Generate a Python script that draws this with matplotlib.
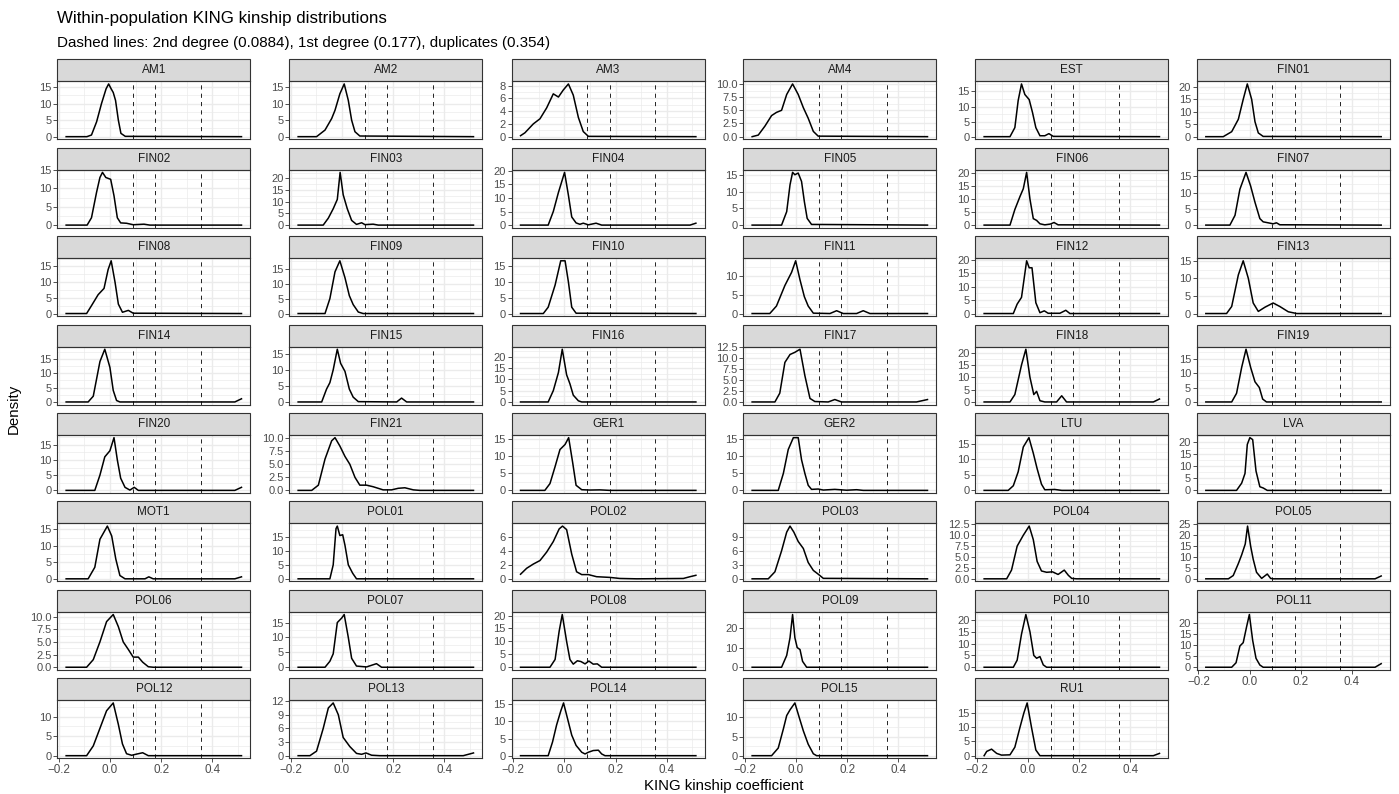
import numpy as np
import matplotlib
matplotlib.use("Agg")
import matplotlib.pyplot as plt
from matplotlib.patches import Rectangle

plt.rcParams['font.family'] = ['Liberation Sans', 'DejaVu Sans']

# density curves (x = KING kinship, y = density)
am1_x = [-0.171, -0.09, -0.072, -0.052, -0.033, -0.015, -0.005, 0.005, 0.013, 0.022, 0.033, 0.043, 0.06, 0.514]
am1_y = [0, 0, 0.5, 4.5, 10, 14.5, 16, 14.5, 13.4, 11, 5, 1, 0.1, 0]
am2_x = [-0.171, -0.099, -0.066, -0.04, -0.027, -0.008, 0.009, 0.025, 0.038, 0.051, 0.07, 0.514]
am2_y = [0, 0, 2, 5.5, 8, 13, 16, 11, 5, 1.5, 0.2, 0]
am3_x = [-0.171, -0.154, -0.121, -0.095, -0.069, -0.043, -0.023, -0.004, 0.016, 0.035, 0.055, 0.074, 0.094, 0.514]
am3_y = [0.15, 0.6, 2, 2.8, 4.5, 6.7, 6.2, 7.3, 8.25, 6.5, 3, 0.8, 0.05, 0]
am4_x = [-0.171, -0.147, -0.121, -0.095, -0.076, -0.056, -0.036, -0.013, 0.009, 0.029, 0.048, 0.068, 0.087, 0.514]
am4_y = [0, 0.3, 2, 4, 4.6, 5, 8, 10, 8, 5.5, 3.5, 1, 0.1, 0]
est_x = [-0.171, -0.07, -0.051, -0.038, -0.025, -0.012, 0.005, 0.018, 0.031, 0.047, 0.066, 0.082, 0.099, 0.514]
est_y = [0, 0, 3, 12, 17.5, 14, 12.3, 8, 3, 0.3, 0.3, 1, 0.1, 0]
fin01_x = [-0.171, -0.103, -0.07, -0.044, -0.025, -0.009, 0.008, 0.021, 0.034, 0.053, 0.514]
fin01_y = [0, 0, 2, 7, 15, 21.2, 15, 6, 1.5, 0.1, 0]

fin02_x = [-0.171, -0.089, -0.072, -0.052, -0.039, -0.029, -0.016, 0.003, 0.016, 0.029, 0.042, 0.065, 0.091, 0.133, 0.156, 0.514]
fin02_y = [0, 0, 2, 9, 13, 14.4, 13, 12.5, 8, 2, 0.6, 0.5, 0.1, 0.25, 0, 0]
fin03_x = [-0.171, -0.073, -0.053, -0.034, -0.018, -0.007, 0.005, 0.021, 0.038, 0.057, 0.077, 0.09, 0.122, 0.142, 0.514]
fin03_y = [0, 0, 3, 7, 11, 22.6, 13, 7, 2, 0.3, 1, 0.2, 0.4, 0, 0]
fin04_x = [-0.171, -0.063, -0.043, -0.023, 0.001, 0.016, 0.029, 0.046, 0.061, 0.074, 0.094, 0.124, 0.146, 0.491, 0.514]
fin04_y = [0, 0, 5, 12, 19.4, 11, 3, 0.8, 0.3, 0.7, 0.1, 0.7, 0, 0, 0.7]
fin05_x = [-0.171, -0.056, -0.036, -0.023, -0.013, -0.004, 0.009, 0.022, 0.033, 0.044, 0.061, 0.514]
fin05_y = [0, 0, 4, 12, 15.7, 15, 15.5, 13, 7, 2, 0.2, 0]
fin06_x = [-0.171, -0.07, -0.051, -0.031, -0.018, -0.005, 0.008, 0.021, 0.034, 0.047, 0.066, 0.088, 0.102, 0.118, 0.514]
fin06_y = [0, 0, 6, 11, 14, 20.3, 10, 2.5, 1.8, 0.5, 0.1, 0.4, 1, 0.1, 0]
fin07_x = [-0.171, -0.077, -0.057, -0.038, -0.014, 0.004, 0.021, 0.04, 0.053, 0.079, 0.092, 0.105, 0.118, 0.514]
fin07_y = [0, 0, 3, 11, 16.2, 12, 7, 2, 1, 0.6, 0.4, 0.7, 0.1, 0]

fin08_x = [-0.171, -0.091, -0.072, -0.046, -0.023, -0.007, 0.005, 0.02, 0.033, 0.049, 0.072, 0.091, 0.514]
fin08_y = [0, 0, 2.5, 6, 8, 14, 16.8, 10, 3, 0.4, 1, 0.1, 0]
fin09_x = [-0.171, -0.066, -0.047, -0.027, -0.008, 0.012, 0.029, 0.044, 0.064, 0.083, 0.514]
fin09_y = [0, 0, 5, 14, 17.7, 12, 6, 3, 0.5, 0, 0]
fin10_x = [-0.171, -0.082, -0.063, -0.036, -0.014, 0.003, 0.016, 0.029, 0.046, 0.514]
fin10_y = [0, 0, 2, 9, 16.7, 16.7, 10, 2, 0.1, 0]
fin11_x = [-0.171, -0.102, -0.076, -0.043, -0.017, -0.001, 0.016, 0.033, 0.048, 0.068, 0.133, 0.159, 0.185, 0.237, 0.263, 0.289, 0.514]
fin11_y = [0, 0, 2, 7.5, 11, 14.1, 9, 4.5, 2, 0.1, 0, 0.75, 0, 0, 0.75, 0, 0]
fin12_x = [-0.171, -0.057, -0.042, -0.025, -0.005, 0.005, 0.016, 0.031, 0.047, 0.064, 0.079, 0.125, 0.148, 0.164, 0.514]
fin12_y = [0, 0, 3.5, 6, 19.6, 17, 17, 4, 0.3, 1, 0.1, 0.1, 1.2, 0, 0]
fin13_x = [-0.171, -0.09, -0.07, -0.044, -0.025, -0.005, 0.014, 0.034, 0.06, 0.092, 0.118, 0.151, 0.184, 0.514]
fin13_y = [0, 0, 2, 11, 15, 10, 3, 0.6, 1.8, 3, 2, 0.5, 0, 0]

fin14_x = [-0.171, -0.085, -0.065, -0.039, -0.02, 0, 0.013, 0.026, 0.039, 0.488, 0.514]
fin14_y = [0, 0, 2, 14, 18.3, 12, 4, 0.5, 0, 0, 1.1]
fin15_x = [-0.171, -0.079, -0.06, -0.047, -0.034, -0.018, -0.005, 0.012, 0.029, 0.044, 0.064, 0.214, 0.233, 0.253, 0.514]
fin15_y = [0, 0, 4, 6, 10, 16.4, 12, 9.5, 4, 1.5, 0.1, 0, 1.2, 0, 0]
fin16_x = [-0.171, -0.063, -0.043, -0.023, -0.008, 0.009, 0.022, 0.035, 0.055, 0.068, 0.514]
fin16_y = [0, 0, 5, 13, 23.3, 12, 8, 3, 0.5, 0, 0]
fin17_x = [-0.171, -0.082, -0.063, -0.043, -0.023, -0.004, 0.016, 0.035, 0.055, 0.074, 0.126, 0.152, 0.178, 0.471, 0.514]
fin17_y = [0, 0, 2, 9, 10.8, 11.3, 12, 6, 0.8, 0.1, 0, 0.55, 0, 0, 0.55]
fin18_x = [-0.171, -0.07, -0.051, -0.025, -0.008, 0.008, 0.023, 0.034, 0.047, 0.066, 0.112, 0.132, 0.151, 0.49, 0.514]
fin18_y = [0, 0, 3, 15, 21.4, 10, 3, 4.3, 0.5, 0, 0, 2.5, 0, 0, 1.2]
fin19_x = [-0.171, -0.07, -0.051, -0.031, -0.014, 0.004, 0.021, 0.038, 0.051, 0.066, 0.514]
fin19_y = [0, 0, 3, 12, 18.3, 12, 7, 5, 1, 0, 0]

fin20_x = [-0.171, -0.059, -0.039, -0.02, 0, 0.016, 0.029, 0.042, 0.059, 0.078, 0.095, 0.111, 0.488, 0.514]
fin20_y = [0, 0, 5, 11, 13, 17.3, 10, 4, 1, 0.1, 1, 0, 0, 1]
fin21_x = [-0.171, -0.118, -0.092, -0.066, -0.04, -0.027, -0.008, 0.012, 0.031, 0.051, 0.07, 0.096, 0.122, 0.161, 0.194, 0.22, 0.246, 0.279, 0.305, 0.514]
fin21_y = [0, 0, 1, 6, 9.5, 10.1, 8.5, 6.5, 5, 2.5, 1, 1, 0.7, 0.1, 0.1, 0.4, 0.5, 0.1, 0, 0]
ger1_x = [-0.171, -0.076, -0.056, -0.036, -0.017, 0.003, 0.017, 0.033, 0.046, 0.068, 0.1, 0.139, 0.178, 0.514]
ger1_y = [0, 0, 2, 7, 12, 13.5, 15.5, 8, 1.5, 0.2, 0.1, 0.15, 0, 0]
ger2_x = [-0.171, -0.069, -0.049, -0.03, -0.01, 0.009, 0.022, 0.035, 0.048, 0.061, 0.087, 0.107, 0.152, 0.198, 0.237, 0.263, 0.514]
ger2_y = [0, 0, 5, 12, 15.5, 15.5, 9, 5, 1.5, 0.3, 0.4, 0.1, 0.3, 0.05, 0.2, 0, 0]
ltu_x = [-0.171, -0.077, -0.057, -0.038, -0.018, 0.004, 0.021, 0.036, 0.053, 0.066, 0.105, 0.132, 0.514]
ltu_y = [0, 0, 1.5, 6, 14, 17, 12, 7, 2, 0.2, 0.3, 0, 0]
lva_x = [-0.171, -0.051, -0.031, -0.018, -0.009, 0.001, 0.012, 0.025, 0.04, 0.053, 0.069, 0.514]
lva_y = [0, 0, 3, 7, 19, 21.8, 21, 8, 1.5, 1, 0, 0]

mot1_x = [-0.171, -0.085, -0.059, -0.039, -0.01, 0.007, 0.023, 0.039, 0.059, 0.137, 0.152, 0.169, 0.488, 0.514]
mot1_y = [0, 0, 3.5, 12, 16, 13, 6, 1, 0, 0, 0.6, 0, 0, 0.6]
pol01_x = [-0.171, -0.047, -0.034, -0.023, -0.018, -0.008, 0.003, 0.012, 0.025, 0.042, 0.057, 0.514]
pol01_y = [0, 0, 5, 18, 18.9, 15.5, 15.8, 12, 5, 2, 0, 0]
pol02_x = [-0.171, -0.147, -0.121, -0.095, -0.069, -0.043, -0.02, -0.007, 0.009, 0.029, 0.048, 0.068, 0.094, 0.126, 0.178, 0.217, 0.283, 0.465, 0.491, 0.514]
pol02_y = [0.65, 1.5, 2.1, 2.6, 3.8, 5.3, 7.1, 7.5, 7, 3.5, 1, 0.6, 0.6, 0.3, 0.2, 0.05, 0, 0.05, 0.3, 0.5]
pol03_x = [-0.171, -0.108, -0.082, -0.056, -0.036, -0.023, -0.008, 0.009, 0.029, 0.048, 0.068, 0.087, 0.107, 0.514]
pol03_y = [0, 0, 1.5, 6, 10, 11.3, 10, 8, 6.5, 3.5, 1.8, 1, 0.1, 0]
pol04_x = [-0.171, -0.083, -0.064, -0.042, -0.018, 0.005, 0.021, 0.036, 0.053, 0.073, 0.096, 0.118, 0.142, 0.158, 0.171, 0.19, 0.514]
pol04_y = [0, 0, 2, 7.5, 10, 12.1, 9, 4, 1.8, 1.5, 1.6, 1, 2, 0.8, 0.1, 0, 0]
pol05_x = [-0.171, -0.083, -0.064, -0.044, -0.031, -0.017, -0.008, 0.004, 0.014, 0.027, 0.047, 0.069, 0.082, 0.092, 0.49, 0.514]
pol05_y = [0, 0, 1.5, 7, 11, 16, 24.2, 15, 9, 3, 0.2, 2.2, 0.2, 0, 0, 1.3]

pol06_x = [-0.171, -0.091, -0.065, -0.039, -0.013, 0.013, 0.033, 0.052, 0.072, 0.091, 0.111, 0.128, 0.15, 0.169, 0.514]
pol06_y = [0, 0, 1.5, 5, 9, 10.4, 8, 5, 3.5, 2, 2, 1, 0.1, 0, 0]
pol07_x = [-0.171, -0.066, -0.047, -0.034, -0.018, -0.001, 0.009, 0.025, 0.038, 0.057, 0.096, 0.135, 0.155, 0.514]
pol07_y = [0, 0, 2, 4.5, 15, 16.5, 17.7, 10, 3, 0.4, 0.1, 1.2, 0, 0]
pol08_x = [-0.171, -0.056, -0.036, -0.02, -0.008, 0.009, 0.022, 0.035, 0.051, 0.065, 0.081, 0.096, 0.113, 0.129, 0.146, 0.514]
pol08_y = [0, 0, 3, 14, 20.4, 10, 3, 1.2, 2.5, 2.2, 1.3, 2.4, 1.2, 1.3, 0, 0]
pol09_x = [-0.171, -0.056, -0.036, -0.023, -0.013, -0.004, 0.005, 0.016, 0.026, 0.042, 0.514]
pol09_y = [0, 0, 6, 15, 26.8, 15, 10, 9, 3, 0, 0]
pol10_x = [-0.171, -0.057, -0.042, -0.025, -0.008, 0.008, 0.023, 0.034, 0.047, 0.06, 0.073, 0.514]
pol10_y = [0, 0, 3, 14, 22.3, 15, 5, 3.8, 4.5, 1, 0, 0]
pol11_x = [-0.171, -0.07, -0.053, -0.038, -0.025, -0.012, -0.001, 0.012, 0.025, 0.04, 0.053, 0.49, 0.514]
pol11_y = [0, 0, 2, 9.5, 11, 18, 23.6, 12, 4, 1, 0, 0, 1.6]

pol12_x = [-0.171, -0.091, -0.065, -0.039, -0.013, 0.013, 0.033, 0.049, 0.065, 0.085, 0.104, 0.128, 0.15, 0.514]
pol12_y = [0, 0, 2.5, 7, 11.5, 13.5, 8, 3, 0.5, 0.1, 0.4, 0.75, 0, 0]
pol13_x = [-0.171, -0.125, -0.099, -0.073, -0.053, -0.034, -0.014, 0.005, 0.031, 0.057, 0.077, 0.094, 0.116, 0.148, 0.474, 0.514]
pol13_y = [0, 0, 1, 6, 10.5, 11.6, 9, 4, 2, 0.5, 0.3, 0.6, 0.1, 0, 0, 0.6]
pol14_x = [-0.171, -0.063, -0.046, -0.03, -0.014, -0.003, 0.012, 0.029, 0.046, 0.068, 0.081, 0.094, 0.113, 0.133, 0.146, 0.159, 0.514]
pol14_y = [0, 0, 4, 9, 13, 15.4, 11, 6, 3, 1, 0.5, 1, 1.5, 1.6, 0.5, 0, 0]
pol15_x = [-0.171, -0.095, -0.069, -0.049, -0.036, -0.023, -0.004, 0.013, 0.029, 0.048, 0.068, 0.081, 0.514]
pol15_y = [0, 0, 2, 7, 10.5, 12, 13.8, 10, 6.5, 3, 0.5, 0, 0]
ru1_x = [-0.171, -0.161, -0.142, -0.122, -0.103, -0.07, -0.051, -0.031, -0.016, -0.003, 0.014, 0.031, 0.047, 0.49, 0.514]
ru1_y = [0, 1.5, 2.3, 0.8, 0.2, 0.3, 3, 10, 15, 18.6, 10, 2, 0, 0, 0.8]

populations = ["AM1", "AM2", "AM3", "AM4", "EST", "FIN01",
               "FIN02", "FIN03", "FIN04", "FIN05", "FIN06", "FIN07",
               "FIN08", "FIN09", "FIN10", "FIN11", "FIN12", "FIN13",
               "FIN14", "FIN15", "FIN16", "FIN17", "FIN18", "FIN19",
               "FIN20", "FIN21", "GER1", "GER2", "LTU", "LVA",
               "MOT1", "POL01", "POL02", "POL03", "POL04", "POL05",
               "POL06", "POL07", "POL08", "POL09", "POL10", "POL11",
               "POL12", "POL13", "POL14", "POL15", "RU1"]

curves = [(am1_x, am1_y), (am2_x, am2_y), (am3_x, am3_y), (am4_x, am4_y), (est_x, est_y), (fin01_x, fin01_y),
          (fin02_x, fin02_y), (fin03_x, fin03_y), (fin04_x, fin04_y), (fin05_x, fin05_y), (fin06_x, fin06_y), (fin07_x, fin07_y),
          (fin08_x, fin08_y), (fin09_x, fin09_y), (fin10_x, fin10_y), (fin11_x, fin11_y), (fin12_x, fin12_y), (fin13_x, fin13_y),
          (fin14_x, fin14_y), (fin15_x, fin15_y), (fin16_x, fin16_y), (fin17_x, fin17_y), (fin18_x, fin18_y), (fin19_x, fin19_y),
          (fin20_x, fin20_y), (fin21_x, fin21_y), (ger1_x, ger1_y), (ger2_x, ger2_y), (ltu_x, ltu_y), (lva_x, lva_y),
          (mot1_x, mot1_y), (pol01_x, pol01_y), (pol02_x, pol02_y), (pol03_x, pol03_y), (pol04_x, pol04_y), (pol05_x, pol05_y),
          (pol06_x, pol06_y), (pol07_x, pol07_y), (pol08_x, pol08_y), (pol09_x, pol09_y), (pol10_x, pol10_y), (pol11_x, pol11_y),
          (pol12_x, pol12_y), (pol13_x, pol13_y), (pol14_x, pol14_y), (pol15_x, pol15_y), (ru1_x, ru1_y)]

# y-axis break spacing per panel (free y scales)
y_steps = [5, 5, 2, 2.5, 5, 5,
           5, 5, 5, 5, 5, 5,
           5, 5, 5, 5, 5, 5,
           5, 5, 5, 2.5, 5, 5,
           5, 2.5, 5, 5, 5, 5,
           5, 5, 2, 3, 2.5, 5,
           2.5, 5, 5, 10, 5, 5,
           5, 3, 5, 5, 5]

thresholds = [0.0884, 0.177, 0.354]
x_breaks = [-0.2, 0.0, 0.2, 0.4]
x_labels = ["\u22120.2", "0.0", "0.2", "0.4"]
x_minor = [-0.1, 0.1, 0.3, 0.5]

W, H = 1399, 794
fig = plt.figure(figsize=(W / 100, H / 100), dpi=100)

col_left = [57.3, 289.3, 511.7, 743.3, 975.3, 1197.0]
panel_w, strip_h, panel_h = 193, 22, 58
row_top0, row_pitch = 59.3, 88.43
n_rows = 8
grid_col = "#EBEBEB"
border_col = "#333333"

for i, name in enumerate(populations):
    r, c = divmod(i, 6)
    top = row_top0 + r * row_pitch + strip_h
    ax = fig.add_axes([col_left[c] / W, 1 - (top + panel_h) / H, panel_w / W, panel_h / H])
    x, y = curves[i]
    ymax = max(y)
    ylo, yhi = -0.05 * ymax, 1.05 * ymax
    ax.set_xlim(-0.2055, 0.5484)
    ax.set_ylim(ylo, yhi)

    step = y_steps[i]
    majors = np.arange(0, yhi + 1e-9, step)
    minors = [m for m in np.arange(-step / 2, yhi, step) if ylo <= m <= yhi]
    ax.set_yticks(majors)
    ax.set_yticks(minors, minor=True)
    if float(step).is_integer():
        ax.set_yticklabels([f"{v:g}" for v in majors])
    else:
        ax.set_yticklabels([f"{v:.1f}" for v in majors])
    ax.set_xticks(x_breaks)
    ax.set_xticks(x_minor, minor=True)
    ax.grid(which="major", color=grid_col, lw=1.0, zorder=0)
    ax.grid(which="minor", color=grid_col, lw=0.5, zorder=0)
    ax.set_axisbelow(True)

    for t in thresholds:
        ax.axvline(t, color="black", lw=0.6, ls=(0, (5, 5)), zorder=2)
    ax.plot(x, y, color="black", lw=1.1, zorder=3, solid_joinstyle="round")

    ax.tick_params(which="minor", length=0)
    ax.tick_params(axis="y", which="major", length=2.75, width=0.6, color=border_col,
                   labelsize=8, labelcolor="#4D4D4D", pad=1.5)
    bottom = (r == n_rows - 1) or (i + 6 >= len(populations))
    if bottom:
        ax.set_xticklabels(x_labels)
        ax.tick_params(axis="x", which="major", length=2.75, width=0.6, color=border_col,
                       labelsize=8.4, labelcolor="#4D4D4D", pad=1.5)
    else:
        ax.tick_params(axis="x", which="major", length=0, labelbottom=False)

    for sp in ax.spines.values():
        sp.set_color(border_col)
        sp.set_linewidth(0.8)

    sh = strip_h / panel_h
    ax.add_patch(Rectangle((0, 1), 1, sh, transform=ax.transAxes, clip_on=False,
                           facecolor="#D9D9D9", edgecolor=border_col, lw=0.8))
    ax.text(0.5, 1 + sh / 2, name, transform=ax.transAxes, ha="center", va="center",
            fontsize=8.5, color="#1A1A1A")

fig.text(57 / W, 1 - 19 / H, "Within-population KING kinship distributions",
         fontsize=12.2, va="center", ha="left")
fig.text(57 / W, 1 - 43 / H, "Dashed lines: 2nd degree (0.0884), 1st degree (0.177), duplicates (0.354)",
         fontsize=10.9, va="center", ha="left")
fig.text(14 / W, 1 - 409 / H, "Density", rotation=90, fontsize=10.8, va="center", ha="center")
fig.text(723.6 / W, 1 - 786 / H, "KING kinship coefficient", fontsize=10.8, va="center", ha="center")

fig.savefig("out.png", dpi=100)
